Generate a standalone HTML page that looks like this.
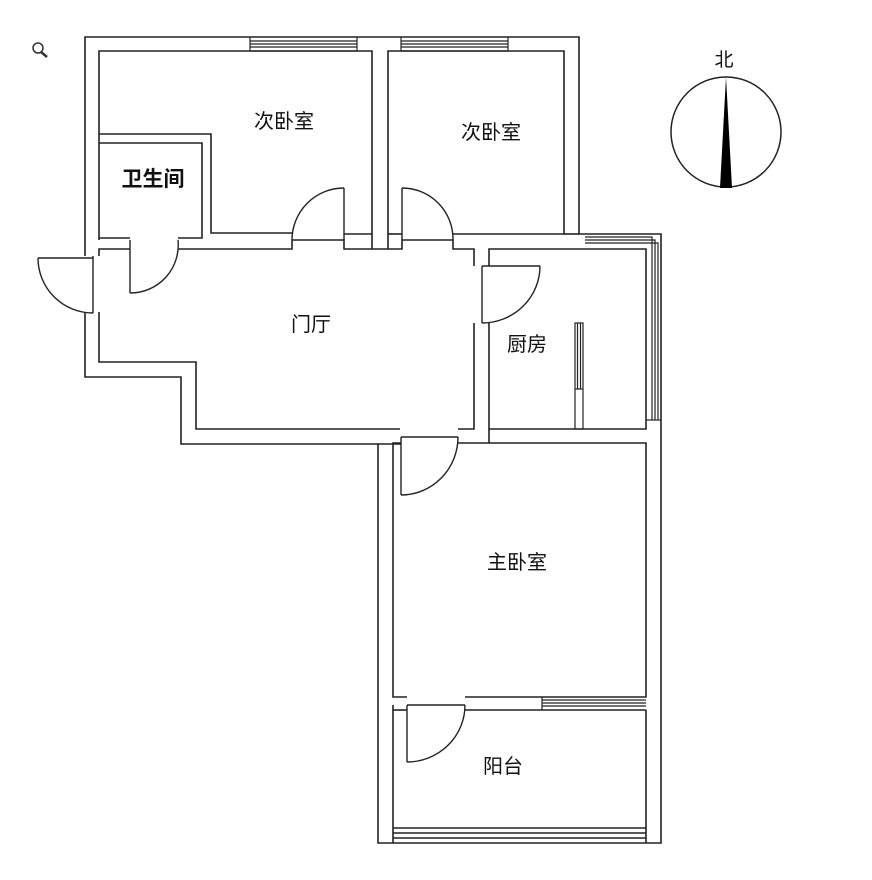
<!DOCTYPE html>
<html><head><meta charset="utf-8"><style>
html,body{margin:0;padding:0;background:#fff}
svg{display:block}
text{font-family:"Liberation Sans","Noto Sans CJK SC",sans-serif;fill:#111}
</style></head><body>
<svg width="872" height="880" viewBox="0 0 872 880" xmlns="http://www.w3.org/2000/svg">
<g fill="none" stroke="#222" stroke-width="1.6">
<!-- outer wall top-left block -->
<polyline points="85,256 85,37 579,37 579,234 661,234 661,843 378,843 378,444 181,444 181,377 85,377 85,312"/>
<!-- left room interior -->
<polyline points="99,240 99,51 372,51 372,234 344,234"/>
<polyline points="99,134 211,134 211,233 292,233"/>
<polyline points="99,143 202,143 202,238 178,238"/>
<polyline points="130,238 99,238"/>
<!-- right room interior -->
<polyline points="388,234 388,51 564,51 564,234 453,234"/>
<polyline points="402,234 388,234"/>
<!-- hall -->
<polyline points="99,256 99,249 130,249"/>
<polyline points="178,249 292,249 292,240 344,240 344,249 402,249 402,240 453,240 453,249 474,249 474,266"/>
<line x1="372" y1="234" x2="372" y2="249"/><line x1="388" y1="234" x2="388" y2="249"/>
<polyline points="99,312 99,362 196,362 196,429 400,429"/>
<polyline points="474,323 474,429 458,429"/>
<!-- kitchen -->
<polyline points="489,266 489,249 646,249 646,429 489,429 489,323"/>
<polyline points="564,234 579,234"/>
<line x1="489" y1="429" x2="489" y2="443"/>
<!-- master bedroom -->
<polyline points="401,443 393,443 393,697 407,697"/>
<polyline points="458,443 646,443 646,697 465,697"/>
<polyline points="465,710 646,710"/>
<polyline points="393,705 393,843"/>
<line x1="393" y1="710" x2="407" y2="710"/>
<line x1="378" y1="444" x2="401" y2="444"/>
<!-- balcony bottom window -->
<line x1="393" y1="828" x2="646" y2="828"/>
<line x1="393" y1="833" x2="646" y2="833"/>
<line x1="393" y1="838" x2="646" y2="838"/>
<line x1="646" y1="710" x2="646" y2="843"/>
<!-- top windows -->
<g stroke-width="1.2">
<line x1="250" y1="41" x2="357" y2="41"/><line x1="250" y1="44" x2="357" y2="44"/><line x1="250" y1="47" x2="357" y2="47"/><line x1="250" y1="51" x2="357" y2="51"/>
<line x1="250" y1="37" x2="250" y2="51"/><line x1="357" y1="37" x2="357" y2="51"/>
<line x1="401" y1="41" x2="508" y2="41"/><line x1="401" y1="44" x2="508" y2="44"/><line x1="401" y1="47" x2="508" y2="47"/><line x1="401" y1="51" x2="508" y2="51"/>
<line x1="401" y1="37" x2="401" y2="51"/><line x1="508" y1="37" x2="508" y2="51"/>
<!-- balcony top window -->
<line x1="542" y1="700" x2="646" y2="700"/><line x1="542" y1="703" x2="646" y2="703"/><line x1="542" y1="706" x2="646" y2="706"/>
<line x1="542" y1="697" x2="542" y2="710"/>
<!-- kitchen side window -->
<polyline points="585,237 652,237 652,420"/>
<polyline points="585,240 655,240 655,420"/>
<polyline points="585,243 658,243 658,420"/>
<line x1="646" y1="420" x2="661" y2="420"/>
<!-- counter -->
<rect x="575" y="323" width="8" height="106"/>
<line x1="577.5" y1="323" x2="577.5" y2="389"/><line x1="580.5" y1="323" x2="580.5" y2="389"/>
<line x1="575" y1="389" x2="583" y2="389"/>
</g>
<!-- doors -->
<g stroke-width="1.4">
<line x1="344" y1="188" x2="344" y2="240"/><path d="M344,188 A52,52 0 0 0 292,240"/>
<line x1="402" y1="188" x2="402" y2="240"/><path d="M402,188 A51,51 0 0 1 453,240"/>
<line x1="130" y1="240" x2="130" y2="293"/><path d="M130,293 A48,48 0 0 0 178,240"/>
<line x1="38" y1="258" x2="93" y2="258"/><line x1="93" y1="256" x2="93" y2="313"/><path d="M38,258 A55,55 0 0 0 93,313"/>
<line x1="482" y1="266" x2="540" y2="266"/><line x1="482" y1="266" x2="482" y2="323"/><path d="M540,266 A58,57 0 0 1 482,323"/>
<line x1="401" y1="437" x2="458" y2="437"/><line x1="401" y1="437" x2="401" y2="495"/><path d="M458,437 A57,58 0 0 1 401,495"/>
<line x1="407" y1="705" x2="465" y2="705"/><line x1="407" y1="705" x2="407" y2="762"/><path d="M465,705 A58,57 0 0 1 407,762"/>
</g>
<!-- compass -->
<circle cx="726" cy="132" r="55" stroke-width="1.5"/>
</g>
<polygon points="726,77 720,188 732,188" fill="#000"/>
<!-- search icon -->
<circle cx="38" cy="48" r="5" fill="none" stroke="#333" stroke-width="1.5"/>
<line x1="41" y1="52" x2="47" y2="57" stroke="#333" stroke-width="2.5"/>
<text x="724" y="66" font-size="19" text-anchor="middle">北</text>
<text x="284" y="128" font-size="20" text-anchor="middle">次卧室</text>
<text x="491" y="139" font-size="20" text-anchor="middle">次卧室</text>
<text x="153" y="186" font-size="21" font-weight="bold" text-anchor="middle">卫生间</text>
<text x="311" y="331" font-size="20" text-anchor="middle">门厅</text>
<text x="527" y="351" font-size="20" text-anchor="middle">厨房</text>
<text x="517" y="569" font-size="20" text-anchor="middle">主卧室</text>
<text x="503" y="773" font-size="20" text-anchor="middle">阳台</text>
</svg>
</body></html>
